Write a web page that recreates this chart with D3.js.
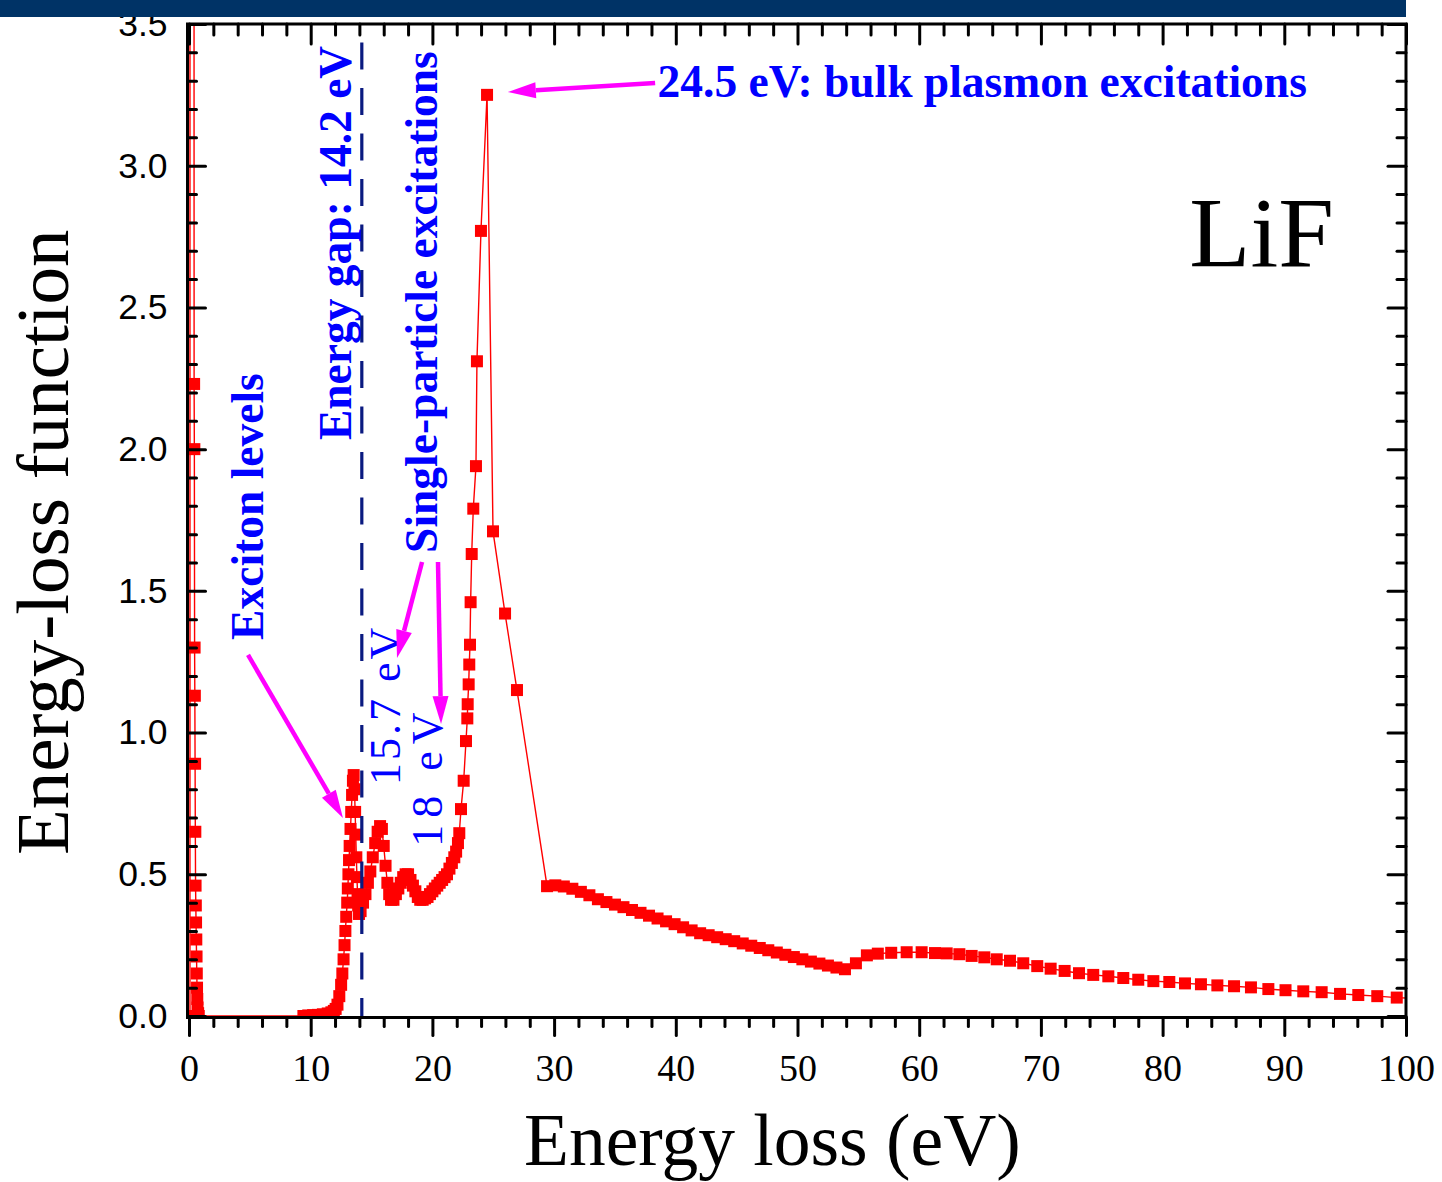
<!DOCTYPE html>
<html>
<head>
<meta charset="utf-8">
<script src="https://cdn.jsdelivr.net/npm/d3@7"></script>
<style>
  body { margin: 0; background: #ffffff; }
  svg { display: block; }
</style>
</head>
<body>
<svg id="chart" width="1442" height="1182"></svg>
<script>
// Energy-loss function of LiF (energy in eV)
const energy = [
  0.08, 0.10, 0.42, 0.44, 0.46, 0.48, 0.50, 0.52, 0.54, 0.56, 0.58, 0.60, 0.62, 0.64, 0.66, 0.68, 0.70, 0.75, 0.80,
  9.4, 9.8, 10.2, 10.6, 11.0, 11.4, 11.7, 11.9, 12.05, 12.2, 12.35, 12.5, 12.6, 12.7, 12.78, 12.85, 12.92,
  13.0, 13.05, 13.1, 13.15, 13.2, 13.27, 13.33, 13.4, 13.47, 13.53, 13.6, 13.65, 13.7, 13.75, 13.8, 13.85, 13.9, 13.97,
  14.1, 14.3, 14.5, 14.7, 14.9, 15.1, 15.3, 15.5, 15.7, 15.85, 16.0, 16.15, 16.3, 16.45, 16.6, 16.8,
  17.0, 17.2, 17.4, 17.6, 17.8, 18.0, 18.2, 18.4, 18.6, 18.8, 19.0, 19.2, 19.4, 19.6, 19.8,
  20.0, 20.2, 20.4, 20.6, 20.8, 21.0, 21.2, 21.4, 21.6, 21.8, 21.95, 22.1,
  22.21, 22.35, 22.57, 22.76, 22.87, 22.9, 22.98, 23.03, 23.09, 23.14, 23.23, 23.36, 23.58, 23.66, 23.99, 24.49,
  24.98, 25.97, 26.95,
  29.42, 30.1, 30.8, 31.5, 32.2, 32.9, 33.6, 34.3, 35.0, 35.7, 36.4, 37.1, 37.8, 38.5, 39.2, 39.9, 40.6, 41.3,
  42.0, 42.7, 43.4, 44.1, 44.8, 45.5, 46.2, 46.9, 47.6, 48.3, 49.0, 49.7, 50.4, 51.1, 51.8, 52.5, 53.2, 53.9,
  54.8, 55.7, 56.6, 57.7,
  58.97, 60.2, 61.3, 62.26, 63.3, 64.31, 65.35, 66.37, 67.46, 68.55, 69.7, 70.8, 71.95, 73.13, 74.3, 75.54,
  76.77, 78.0, 79.24, 80.55, 81.84, 83.15, 84.5, 85.87, 87.26, 88.69, 90.1, 91.56, 93.07, 94.58, 96.08,
  97.64, 99.24, 100.8
];
const lossFunction = [
  0.0, 80.0, 2.23, 2.00, 1.30, 1.13, 0.89, 0.65, 0.46, 0.39, 0.33, 0.27, 0.21, 0.15, 0.10, 0.06, 0.03, 0.01, 0.0,
  0.0, 0.002, 0.003, 0.004, 0.006, 0.009, 0.013, 0.018, 0.025, 0.04, 0.07, 0.11, 0.15, 0.20, 0.25, 0.30, 0.35,
  0.40, 0.45, 0.50, 0.55, 0.60, 0.66, 0.72, 0.78, 0.83, 0.85, 0.80, 0.72, 0.64, 0.56, 0.49, 0.43, 0.39, 0.36,
  0.37, 0.40, 0.43, 0.47, 0.51, 0.56, 0.61, 0.65, 0.67, 0.66, 0.60, 0.53, 0.47, 0.43, 0.41, 0.41,
  0.43, 0.45, 0.47, 0.49, 0.50, 0.50, 0.48, 0.46, 0.44, 0.42, 0.41, 0.41, 0.415, 0.42, 0.43,
  0.44, 0.45, 0.46, 0.47, 0.48, 0.49, 0.50, 0.52, 0.54, 0.56, 0.58, 0.61,
  0.645, 0.73, 0.83, 0.97, 1.05, 1.10, 1.17, 1.24, 1.31, 1.46, 1.63, 1.79, 1.94, 2.31, 2.77, 3.25,
  1.71, 1.42, 1.15,
  0.458, 0.461, 0.457, 0.449, 0.438, 0.426, 0.412, 0.402, 0.393, 0.384, 0.374, 0.364, 0.354, 0.344, 0.334, 0.324, 0.313, 0.302,
  0.292, 0.285, 0.278, 0.271, 0.264, 0.256, 0.248, 0.240, 0.232, 0.224, 0.216, 0.208, 0.200, 0.192, 0.185, 0.178, 0.171, 0.165,
  0.186, 0.214, 0.220, 0.223,
  0.225, 0.225, 0.222, 0.221, 0.218, 0.212, 0.207, 0.200, 0.195, 0.186, 0.176, 0.167, 0.159, 0.151, 0.145, 0.140,
  0.134, 0.128, 0.123, 0.120, 0.115, 0.112, 0.108, 0.105, 0.101, 0.095, 0.091, 0.087, 0.084, 0.078, 0.074,
  0.070, 0.065, 0.062
];

const xMajorTicks = [0, 10, 20, 30, 40, 50, 60, 70, 80, 90, 100];
const xMinorTicks = d3.range(0, 101, 2).filter(v => v % 10 !== 0);
const yMajorTicks = [0.0, 0.5, 1.0, 1.5, 2.0, 2.5, 3.0, 3.5];
const yMinorTicks = d3.range(0, 36, 1).map(v => v / 10).filter((v, i) => i % 5 !== 0);

const gapEnergy = 14.2;

// Annotation texts placed in data coordinates
const verticalNotes = [
  { text: "Exciton levels", e: 6.08, v: 1.327, bold: true, spacing: 0 },
  { text: "Energy gap: 14.2 eV", e: 13.3, v: 2.032, bold: true, spacing: 0 },
  { text: "Single-particle excitations", e: 20.38, v: 1.634, bold: true, spacing: 0 },
  { text: "15.7 eV", e: 17.34, v: 0.815, bold: false, spacing: 3 },
  { text: "18 eV", e: 20.79, v: 0.597, bold: false, spacing: 7 }
];
const arrows = [
  { e0: 38.3, v0: 3.292, e1: 26.2, v1: 3.26 },
  { e0: 4.85, v0: 1.274, e1: 12.65, v1: 0.699 },
  { e0: 19.15, v0: 1.602, e1: 17.09, v1: 1.263 },
  { e0: 20.46, v0: 1.602, e1: 20.71, v1: 1.03 }
];

const svg = d3.select("#chart");
const plotLeft = 189, plotRight = 1406, plotTop = 24, plotBottom = 1016;
const x = d3.scaleLinear().domain([0, 100]).range([plotLeft, plotRight]);
const y = d3.scaleLinear().domain([0, 3.5]).range([plotBottom, plotTop]);

const serif = "'Liberation Serif', 'Times New Roman', serif";
const sans = "'Liberation Sans', Arial, sans-serif";

svg.append("defs").append("clipPath").attr("id", "plotClip")
  .append("rect").attr("x", plotLeft - 1).attr("y", plotTop)
  .attr("width", plotRight - plotLeft + 1).attr("height", plotBottom - plotTop + 1);

// Series
const points = energy.map((e, i) => ({ e, v: lossFunction[i] }));
const plot = svg.append("g").attr("clip-path", "url(#plotClip)");
plot.append("path")
  .datum(points)
  .attr("fill", "none")
  .attr("stroke", "#ff0000")
  .attr("stroke-width", 1.4)
  .attr("d", d3.line().x(d => x(d.e)).y(d => y(d.v)));
const ms = 12;
plot.selectAll("rect.pt")
  .data(points.filter(d => d.v < 10))
  .join("rect")
  .attr("class", "pt")
  .attr("x", d => x(d.e) - ms / 2)
  .attr("y", d => y(d.v) - ms / 2)
  .attr("width", ms)
  .attr("height", ms)
  .attr("fill", "#ff0000");

// Energy gap marker
svg.append("line")
  .attr("x1", x(gapEnergy)).attr("x2", x(gapEnergy))
  .attr("y1", y(0)).attr("y2", y(3.5))
  .attr("stroke", "#0a1a80")
  .attr("stroke-width", 3.2)
  .attr("stroke-dasharray", "27,18.5")
  .attr("stroke-dashoffset", 9);

// Axes
function styleTicks(g) {
  g.select(".domain").remove();
  g.selectAll(".tick line").attr("stroke", "#000").attr("stroke-width", 3).attr("stroke-linecap", "round");
}
svg.append("g").attr("transform", `translate(0,${plotBottom + 1.5})`)
  .call(d3.axisBottom(x).tickValues(xMinorTicks).tickSize(9).tickFormat(""))
  .call(styleTicks);
const xAxis = svg.append("g").attr("transform", `translate(0,${plotBottom + 1.5})`)
  .call(d3.axisBottom(x).tickValues(xMajorTicks).tickSize(18).tickPadding(19).tickFormat(d3.format("d")))
  .call(styleTicks);
xAxis.selectAll(".tick text").attr("font-family", serif).attr("font-size", 38).attr("fill", "#000");

svg.append("g").attr("transform", `translate(0,${plotTop})`)
  .call(d3.axisTop(x).tickValues(xMinorTicks).tickSize(-11).tickFormat(""))
  .call(styleTicks);
svg.append("g").attr("transform", `translate(0,${plotTop})`)
  .call(d3.axisTop(x).tickValues(xMajorTicks).tickSize(-20).tickFormat(""))
  .call(styleTicks);

svg.append("g").attr("transform", `translate(${plotLeft - 1.5},0)`)
  .call(d3.axisLeft(y).tickValues(yMinorTicks).tickSize(-9).tickFormat(""))
  .call(styleTicks);
const yAxis = svg.append("g").attr("transform", `translate(${plotLeft - 1.5},0)`)
  .call(d3.axisLeft(y).tickValues(yMajorTicks).tickSize(-18).tickPadding(20).tickFormat(d3.format(".1f")))
  .call(styleTicks);
yAxis.selectAll(".tick text").attr("font-family", sans).attr("font-size", 35.5).attr("fill", "#000");

svg.append("g").attr("transform", `translate(${plotRight},0)`)
  .call(d3.axisRight(y).tickValues(yMinorTicks).tickSize(-9).tickFormat(""))
  .call(styleTicks);
svg.append("g").attr("transform", `translate(${plotRight},0)`)
  .call(d3.axisRight(y).tickValues(yMajorTicks).tickSize(-18).tickFormat(""))
  .call(styleTicks);

// Frame
svg.append("rect")
  .attr("x", plotLeft - 1.5).attr("y", plotTop)
  .attr("width", plotRight - plotLeft + 1.5).attr("height", plotBottom + 1.5 - plotTop)
  .attr("fill", "none").attr("stroke", "#000").attr("stroke-width", 3);

// Axis titles
svg.append("text")
  .attr("x", 524).attr("y", 1165)
  .attr("font-family", serif).attr("font-size", 73.5).attr("fill", "#000")
  .text("Energy loss (eV)");
svg.append("text")
  .attr("transform", "translate(68,855) rotate(-90)")
  .attr("font-family", serif).attr("font-size", 75).attr("fill", "#000")
  .text("Energy-loss function");

// Material label
svg.append("text")
  .attr("x", x(82.2)).attr("y", y(2.646))
  .attr("font-family", serif).attr("font-size", 100).attr("fill", "#000")
  .text("LiF");

// Annotations
svg.append("text")
  .attr("x", x(38.5)).attr("y", y(3.243))
  .attr("font-family", serif).attr("font-size", 45.5).attr("font-weight", "bold").attr("fill", "#0000ff")
  .text("24.5 eV: bulk plasmon excitations");

verticalNotes.forEach(n => {
  svg.append("text")
    .attr("transform", `translate(${x(n.e)},${y(n.v)}) rotate(-90)`)
    .attr("font-family", serif).attr("font-size", n.bold ? 45.5 : 44)
    .attr("font-weight", n.bold ? "bold" : "normal")
    .attr("letter-spacing", n.spacing)
    .attr("fill", "#0000ff")
    .text(n.text);
});

const headLen = 28, headHalf = 8;
arrows.forEach(a => {
  const x0 = x(a.e0), y0 = y(a.v0), x1 = x(a.e1), y1 = y(a.v1);
  const ang = Math.atan2(y1 - y0, x1 - x0);
  const bx = x1 - headLen * Math.cos(ang), by = y1 - headLen * Math.sin(ang);
  svg.append("line")
    .attr("x1", x0).attr("y1", y0).attr("x2", bx).attr("y2", by)
    .attr("stroke", "#ff00ff").attr("stroke-width", 4.5);
  const px = -Math.sin(ang) * headHalf, py = Math.cos(ang) * headHalf;
  svg.append("path")
    .attr("d", `M${x1},${y1}L${bx + px},${by + py}L${bx - px},${by - py}Z`)
    .attr("fill", "#ff00ff");
});

// Header band
svg.append("rect")
  .attr("x", 0).attr("y", 0).attr("width", 1406).attr("height", 17)
  .attr("fill", "#003366");
</script>
</body>
</html>
